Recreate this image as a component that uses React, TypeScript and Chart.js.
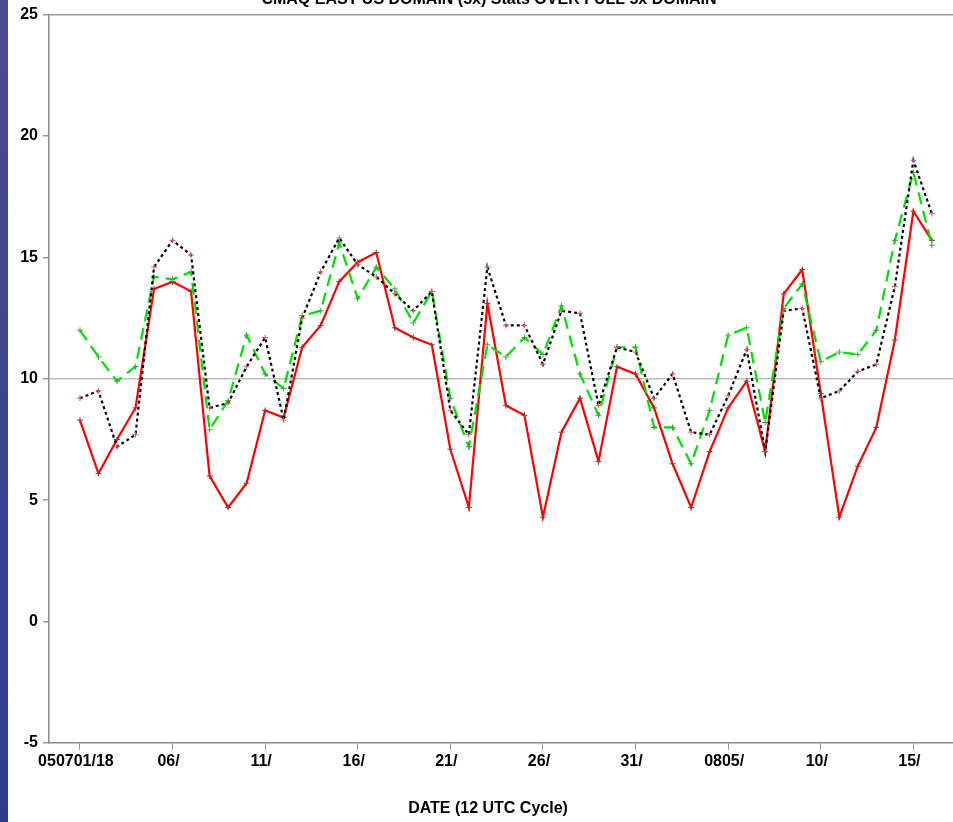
import React, { useEffect, useRef } from "react";
import { Chart, registerables } from "chart.js";

Chart.register(...registerables);

const redSeries = [8.3, 6.1, 7.5, 8.8, 13.7, 14.0, 13.6, 6.0, 4.7, 5.7, 8.7, 8.4, 11.3, 12.2, 14.0, 14.8, 15.2, 12.1, 11.7, 11.4, 7.1, 4.7, 13.1, 8.9, 8.5, 4.3, 7.8, 9.2, 6.6, 10.5, 10.2, 8.8, 6.5, 4.7, 7.0, 8.8, 9.9, 7.0, 13.5, 14.5, 9.4, 4.3, 6.4, 8.0, 11.6, 16.9, 15.7];
const blackSeries = [9.2, 9.5, 7.2, 7.7, 14.6, 15.7, 15.1, 8.8, 9.0, 10.5, 11.7, 8.3, 12.5, 14.4, 15.8, 14.7, 14.2, 13.5, 12.8, 13.6, 8.7, 7.7, 14.6, 12.2, 12.2, 10.6, 12.8, 12.7, 8.9, 11.3, 11.1, 9.2, 10.2, 7.8, 7.7, 9.3, 11.2, 7.0, 12.8, 12.9, 9.2, 9.5, 10.3, 10.6, 13.8, 19.0, 16.8];
const greenSeries = [12.0, 10.9, 9.9, 10.5, 14.2, 14.1, 14.4, 7.9, 9.1, 11.8, 10.2, 9.6, 12.6, 12.8, 15.6, 13.3, 14.6, 13.7, 12.3, 13.6, 9.2, 7.2, 11.4, 10.9, 11.7, 11.0, 13.0, 10.2, 8.5, 11.3, 11.3, 8.0, 8.0, 6.5, 8.7, 11.8, 12.1, 8.2, 12.9, 13.9, 10.7, 11.1, 11.0, 12.0, 15.7, 18.5, 15.5];

const tickIndices = [0, 5, 10, 15, 20, 25, 30, 35, 40, 45];
const tickLabels = ["050701/18", "06/", "11/", "16/", "21/", "26/", "31/", "0805/", "10/", "15/"];
const yTicks = [-5, 0, 5, 10, 15, 20, 25];

const chartTitle = "CMAQ EAST US DOMAIN (5x) Stats OVER FULL 5x DOMAIN";
const xTitle = "DATE (12 UTC Cycle)";

const FONT = "'Liberation Sans', Arial, Helvetica, sans-serif";

const toPoints = (arr: number[]) => arr.map((v, i) => ({ x: i, y: v }));

export default function App() {
  const ref = useRef<HTMLCanvasElement | null>(null);

  useEffect(() => {
    if (!ref.current) return;
    const decorPlugin = {
      id: "decor",
      beforeDraw(chart: any) {
        const ctx = chart.ctx;
        ctx.save();
        ctx.fillStyle = "#ffffff";
        ctx.fillRect(0, 0, chart.width, chart.height);
        const g = ctx.createLinearGradient(0, 0, 0, chart.height);
        g.addColorStop(0, "#4a4c94");
        g.addColorStop(1, "#2f3c8e");
        ctx.fillStyle = g;
        ctx.fillRect(0, 0, 8, chart.height);
        ctx.restore();
      },
      afterDraw(chart: any) {
        const ctx = chart.ctx;
        ctx.save();
        ctx.fillStyle = "#000";
        ctx.font = `bold 16px ${FONT}`;
        ctx.textAlign = "center";
        ctx.textBaseline = "alphabetic";
        ctx.fillText(chartTitle, 489, 4);
        ctx.font = `bold 16px ${FONT}`;
        ctx.textBaseline = "middle";
        ctx.fillText(xTitle, 488, 809);
        ctx.restore();
      },
    };

    const chart = new Chart(ref.current, {
      type: "line",
      data: {
        datasets: [
          {
            label: "black",
            data: toPoints(blackSeries),
            borderColor: "#000000",
            borderWidth: 2.2,
            borderDash: [3, 3],
            pointStyle: "cross",
            pointRadius: 3,
            pointBorderWidth: 1,
            pointBorderColor: "#d06060",
            fill: false,
            tension: 0,
          },
          {
            label: "green",
            data: toPoints(greenSeries),
            borderColor: "#00e000",
            borderWidth: 2.2,
            borderDash: [12, 7],
            pointStyle: "cross",
            pointRadius: 3,
            pointBorderWidth: 1,
            pointBorderColor: "#40a040",
            fill: false,
            tension: 0,
          },
          {
            label: "red",
            data: toPoints(redSeries),
            borderColor: "#ff0000",
            borderWidth: 2.2,
            pointStyle: "cross",
            pointRadius: 3,
            pointBorderWidth: 1,
            pointBorderColor: "#804040",
            fill: false,
            tension: 0,
          },
        ],
      },
      options: {
        animation: false,
        responsive: false,
        maintainAspectRatio: false,
        layout: { padding: { top: 10, right: 0, left: 0, bottom: 0 } },
        plugins: {
          legend: { display: false },
          title: { display: false },
          tooltip: { enabled: false },
        },
        scales: {
          x: {
            type: "linear",
            min: -1.67,
            max: 47.14,
            afterFit(scale: any) {
              scale.height = 79;
            },
            afterBuildTicks(scale: any) {
              scale.ticks = tickIndices.map((v) => ({ value: v }));
            },
            ticks: {
              autoSkip: false,
              maxRotation: 0,
              padding: 2,
              labelOffset: -4,
              color: "#000",
              font: { family: FONT, size: 16, weight: "bold" },
              callback: (v: any) => {
                const k = tickIndices.indexOf(Number(v));
                return k >= 0 ? tickLabels[k] : "";
              },
            },
            grid: {
              display: true,
              drawOnChartArea: false,
              drawTicks: true,
              tickLength: 7,
              tickColor: "#999",
              color: "#999",
            },
            border: { display: true, color: "#8a8a8a", width: 1.5 },
          },
          y: {
            type: "linear",
            min: -5,
            max: 25,
            afterFit(scale: any) {
              scale.width = 49;
            },
            afterBuildTicks(scale: any) {
              scale.ticks = yTicks.map((v) => ({ value: v }));
            },
            ticks: {
              padding: 5,
              color: "#000",
              font: { family: FONT, size: 16, weight: "bold" },
            },
            grid: {
              display: true,
              drawTicks: true,
              tickLength: 6,
              tickColor: "#999",
              lineWidth: 1.5,
              color: (c: any) =>
                c.tick && c.tick.value === 10
                  ? "#bdbdbd"
                  : c.tick && c.tick.value === 25
                  ? "#999"
                  : "rgba(0,0,0,0)",
            },
            border: { display: true, color: "#8a8a8a", width: 1.5 },
          },
        },
      },
      plugins: [decorPlugin],
    } as any);
    return () => chart.destroy();
  }, []);

  return (
    <div style={{ position: "absolute", left: 0, top: 0, width: 953, height: 822, overflow: "hidden" }}>
      <canvas ref={ref} width={958} height={822} style={{ display: "block", width: 958, height: 822 }} />
    </div>
  );
}
